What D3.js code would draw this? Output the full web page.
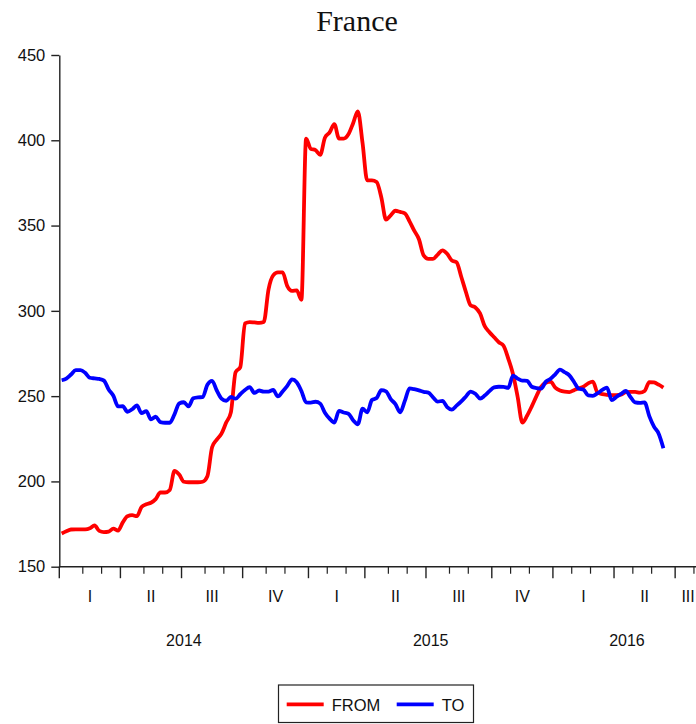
<!DOCTYPE html>
<html>
<head>
<meta charset="utf-8">
<script src="https://cdn.jsdelivr.net/npm/d3@7"></script>
<style>
html,body{margin:0;padding:0;background:#fff;}
svg{display:block;}
</style>
</head>
<body>
<svg id="chart" width="696" height="724"></svg>
<script>
// Weekly observations, first week of 2014 = index 0
const fromValues = [
169.5,170.8,171.8,171.9,171.9,171.9,172.5,174.2,171.0,170.3,
170.6,172.3,171.2,176.0,179.6,180.2,179.6,185.0,186.6,187.5,
189.6,193.5,193.5,195.0,206.2,204.0,199.8,199.5,199.5,199.5,
199.8,203.0,220.0,224.5,228.0,234.5,240.5,264.0,267.0,292.6,
293.4,293.2,293.0,293.5,312.5,320.8,322.5,322.5,314.5,311.7,
312.0,306.5,401.0,395.0,394.2,391.5,401.5,404.6,409.5,401.0,
401.0,403.5,410.0,417.0,398.5,376.5,376.5,375.5,366.5,353.5,
356.0,358.7,358.0,357.2,352.5,347.0,342.0,332.5,330.5,330.5,
333.0,335.5,333.5,329.5,328.5,320.0,311.0,303.2,302.0,298.5,
291.0,287.5,284.5,281.6,279.5,272.0,263.0,249.5,234.5,238.5,
244.0,250.0,255.5,257.9,258.5,255.0,253.3,252.6,252.4,253.5,
254.6,255.6,257.5,258.5,252.0,251.2,250.8,250.6,250.6,250.9,
252.3,252.5,252.5,252.0,253.0,258.2,258.0,256.7,255.0
];
const toValues = [
259.3,260.3,262.7,265.2,265.2,263.7,260.8,260.4,260.1,259.1,
253.9,250.2,244.0,244.1,240.8,242.3,244.5,240.0,241.2,236.4,
237.9,234.8,234.4,234.4,239.3,245.7,246.4,244.0,248.7,249.3,
249.4,256.7,259.0,253.3,248.6,247.3,249.5,248.5,251.1,253.6,
255.3,251.9,253.3,252.6,252.7,253.6,249.8,252.7,256.0,259.8,
258.2,253.0,246.4,246.2,246.7,245.6,240.3,236.8,234.5,241.4,
240.4,239.7,235.9,233.5,242.6,240.5,247.7,248.9,253.5,252.8,
248.3,245.3,240.5,247.2,254.5,254.1,253.4,252.5,252.1,249.3,
246.8,247.2,243.6,242.1,244.4,246.9,249.8,252.7,251.4,248.6,
250.3,252.9,255.1,255.5,255.4,254.8,262.0,260.3,259.1,259.0,
255.5,254.7,254.4,258.5,260.2,262.8,265.6,264.0,262.2,258.3,
254.3,253.8,250.4,250.2,251.7,253.6,255.0,247.7,249.5,251.3,
253.0,249.5,246.3,246.0,246.3,238.3,232.1,228.0,219.5
];
// Axis structure (in week indices)
const quarterStarts = [0,13,26,39,53,65,78,92,105,118,131];
const quarterLabels = ["I","II","III","IV","I","II","III","IV","I","II","III"];
const monthTicks = [5,9,18,22,31,35,44,48,57,61,70,74,83,87,96,100,109,113,122,126,135];
const yearStarts = [0,53,105];
const yearLabels = ["2014","2015","2016"];
const axisEnd = 136.5;
const yTicks = [150,200,250,300,350,400,450];
const seriesNames = ["FROM","TO"];
const seriesColors = ["#ff0000","#0000ff"];

const svg = d3.select("#chart");
const x = d3.scaleLinear().domain([0, axisEnd]).range([59.3, 701]);
const y = d3.scaleLinear().domain([150, 450]).range([566.7, 55]);

// Title
svg.append("text").attr("x", 357).attr("y", 31).attr("text-anchor","middle")
  .attr("font-family","'Liberation Serif', serif").attr("font-size", 30)
  .attr("fill","#111").text("France");

// Y axis
const yAxis = d3.axisLeft(y).tickValues(yTicks).tickSize(8).tickPadding(6).tickSizeOuter(0);
const gy = svg.append("g").attr("transform","translate(59.3,0)").call(yAxis);
gy.selectAll("text").attr("font-family","'Liberation Sans', Arial, sans-serif").attr("font-size",16.5).attr("fill","#111");
gy.selectAll("line,path").attr("stroke","#222").attr("stroke-width",1.4);

// X axis: major (quarters) and minor (months)
const gx = svg.append("g").attr("transform","translate(0,566.7)");
gx.append("line").attr("x1", x(0)).attr("x2", x(axisEnd)).attr("y1",0).attr("y2",0)
  .attr("stroke","#222").attr("stroke-width",1.4);
gx.selectAll(".maj").data(quarterStarts).join("line")
  .attr("x1", d=>x(d)).attr("x2", d=>x(d)).attr("y1",0).attr("y2",11.5)
  .attr("stroke","#222").attr("stroke-width",1.4);
gx.selectAll(".min").data(monthTicks).join("line")
  .attr("x1", d=>x(d)).attr("x2", d=>x(d)).attr("y1",0).attr("y2",7)
  .attr("stroke","#222").attr("stroke-width",1.2);
const qEnds = quarterStarts.slice(1).concat([axisEnd]);
gx.selectAll(".ql").data(quarterStarts).join("text")
  .attr("x", (d,i)=> (x(d)+x(Math.min(qEnds[i],axisEnd)))/2)
  .attr("y", 35).attr("text-anchor","middle")
  .attr("font-family","'Liberation Sans', Arial, sans-serif").attr("font-size",16)
  .attr("fill","#111").text((d,i)=>quarterLabels[i]);
const yEnds = yearStarts.slice(1).concat([axisEnd]);
gx.selectAll(".yl").data(yearStarts).join("text")
  .attr("x", (d,i)=> (x(d)+x(yEnds[i]))/2)
  .attr("y", 79.5).attr("text-anchor","middle")
  .attr("font-family","'Liberation Sans', Arial, sans-serif").attr("font-size",16)
  .attr("fill","#111").text((d,i)=>yearLabels[i]);

// Lines
const line = d3.line().x((d,i)=>x(i+0.5)).y(d=>y(d)).curve(d3.curveMonotoneX);
[fromValues,toValues].forEach((vals,k)=>{
  svg.append("path").datum(vals).attr("d", line).attr("fill","none")
    .attr("stroke", seriesColors[k]).attr("stroke-width",3.8)
    .attr("stroke-linejoin","round");
});

// Legend
const lg = svg.append("g");
lg.append("rect").attr("x",278.5).attr("y",685).attr("width",195).attr("height",37.5)
  .attr("fill","#fff").attr("stroke","#222").attr("stroke-width",1.2);
const legendX = [286.7, 396.7];
seriesNames.forEach((n,k)=>{
  lg.append("line").attr("x1",legendX[k]).attr("x2",legendX[k]+37).attr("y1",704.3).attr("y2",704.3)
    .attr("stroke",seriesColors[k]).attr("stroke-width",3.8);
  lg.append("text").attr("x",legendX[k]+45).attr("y",710.5)
    .attr("font-family","'Liberation Sans', Arial, sans-serif").attr("font-size",16.5)
    .attr("fill","#111").text(n);
});
</script>
</body>
</html>
